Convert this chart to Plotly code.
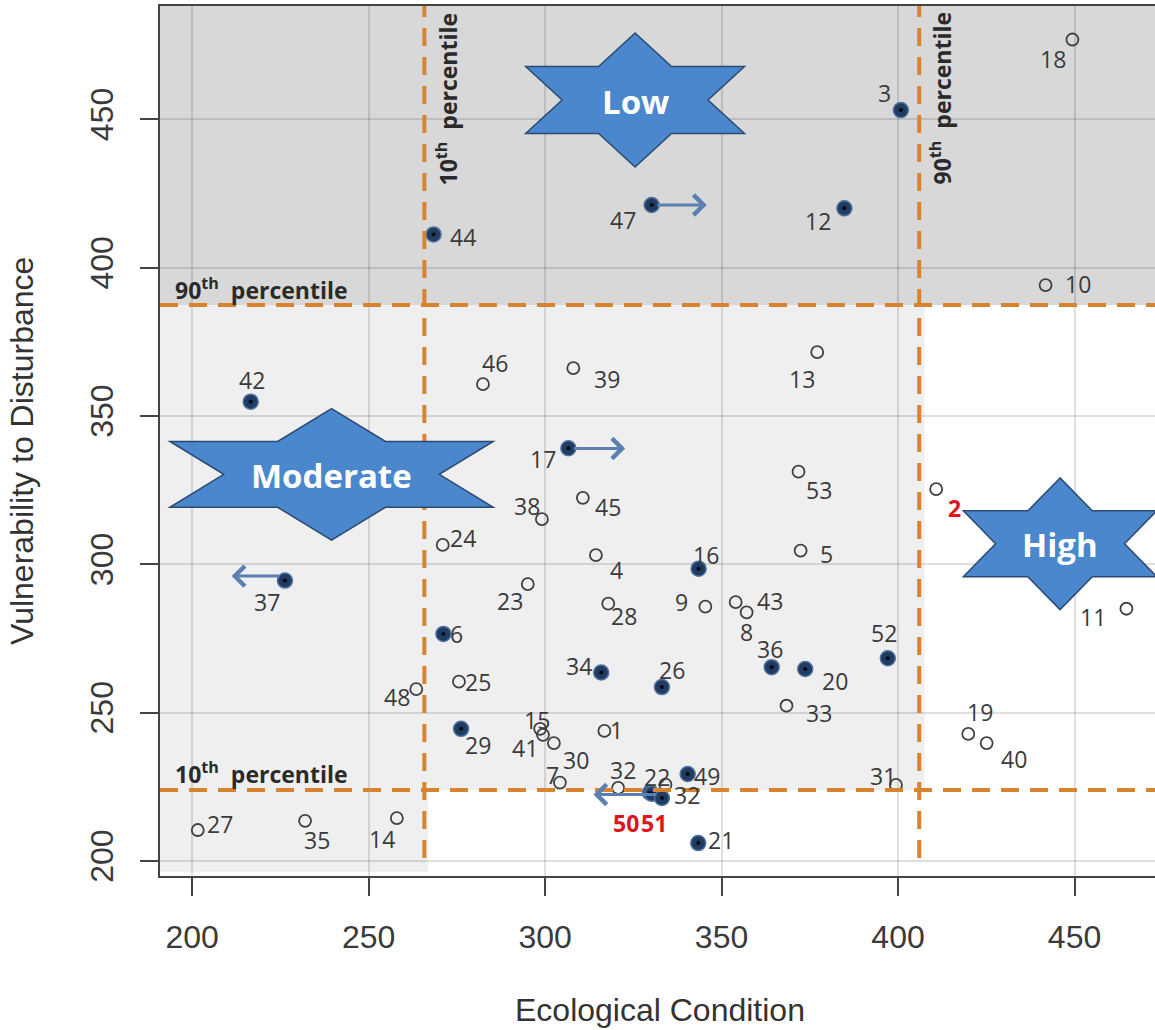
import math
import plotly.graph_objects as go

# ---------------- data ----------------
site_keys = ["1", "2", "3", "4", "5", "6", "7", "8", "9", "10",
             "11", "12", "13", "14", "15", "16", "17", "18", "19", "20",
             "21", "22", "23", "24", "25", "26", "27", "28", "29", "30",
             "31", "32a", "32b", "33", "34", "35", "36", "37", "38", "39",
             "40", "41", "42", "43", "44", "45", "46", "47", "48", "49",
             "50", "51", "52", "53"]
site_labels = [k.rstrip("ab") for k in site_keys]

ecological_condition = [316.8, 410.8, 400.8, 314.4, 372.4, 271.2, 304.2, 357.1, 345.4, 441.8,
                        464.7, 384.8, 377.1, 258.0, 298.6, 343.5, 306.6, 449.4, 419.9, 373.7,
                        343.4, 329.7, 295.1, 271.0, 275.6, 333.1, 201.6, 317.9, 276.2, 302.5,
                        399.4, 320.7, 334.1, 368.4, 315.9, 232.0, 364.2, 226.3, 299.1, 308.0,
                        425.1, 299.4, 216.6, 354.0, 268.4, 310.7, 282.4, 330.2, 263.5, 340.4,
                        330.3, 333.1, 397.1, 371.8]

vulnerability = [243.8, 325.3, 453.1, 303.1, 304.6, 276.5, 226.4, 283.8, 285.7, 394.1,
                 285.0, 420.0, 371.5, 214.4, 244.5, 298.5, 339.1, 476.9, 242.8, 264.7,
                 206.0, 223.0, 293.3, 306.5, 260.4, 258.6, 210.4, 286.7, 244.5, 239.7,
                 225.6, 224.6, 225.7, 252.3, 263.5, 213.5, 265.3, 294.5, 315.2, 366.1,
                 239.7, 242.5, 354.8, 287.2, 411.2, 322.4, 360.7, 421.1, 257.9, 229.3,
                 222.6, 221.2, 268.3, 331.2]

filled_sites = ["3", "6", "12", "16", "17", "20", "21", "22", "26", "29", "34", "36",
                "37", "42", "44", "47", "49", "50", "51", "52"]
highlight_sites = ["2", "50", "51"]

# percentiles
eco_p10, eco_p90 = 265.8, 406.0
vul_p10, vul_p90 = 223.9, 387.4

# arrows: (site, target ecological condition, vulnerability level)
arrows = [("47", 345.8, 421.1), ("17", 322.7, 339.0), ("37", 211.2, 296.0), ("51", 313.7, 222.4)]

# rating stars: (label, centre eco, centre vul, half-width, half-height)
stars = [("Low", 325.5, 456.5, 31.0, 22.6),
         ("Moderate", 239.5, 330.3, 45.8, 22.2),
         ("High", 445.9, 306.9, 27.4, 22.2)]

x_ticks = [200, 250, 300, 350, 400, 450]
y_ticks = [200, 250, 300, 350, 400, 450]

# ---------------- styling ----------------
X_RANGE = [190.9, 472.8]
Y_RANGE = [194.9, 488.2]
label_offsets = {
    "1": (12, 4), "2": (18, -16), "3": (-16, 20), "4": (21, -12), "5": (26, 0),
    "6": (13, 3), "7": (-7, 11), "8": (0, -17), "9": (-24, 8), "10": (32, 4),
    "11": (-33, -5), "12": (-26, -10), "13": (-15, -24), "14": (-15, -18), "15": (-3, 12),
    "16": (7, 17), "17": (-25, -8), "18": (-19, -16), "19": (12, 25), "20": (30, -9),
    "21": (23, 6), "22": (7, 19), "23": (-18, -14), "24": (20, 10), "25": (19, 3),
    "26": (10, 20), "27": (22, 9), "28": (16, -9), "29": (17, -13), "30": (22, -14),
    "31": (-13, 12), "32a": (5, 21), "32b": (22, -7), "33": (32, -4), "34": (-22, 10),
    "35": (12, -16), "36": (-2, 21), "37": (-18, -18), "38": (-15, 16), "39": (34, -8),
    "40": (27, -13), "41": (-18, -10), "42": (1, 25), "43": (34, 4), "44": (29, 0),
    "45": (25, -6), "46": (12, 24), "47": (-29, -12), "48": (-19, -5), "49": (19, 1),
    "50": (-26, -26), "51": (-8, -22), "52": (-4, 28), "53": (20, -15),
}
LABEL_FONT = "Open Sans, Lato, sans-serif"
AXIS_FONT = "Liberation Sans, Arial, sans-serif"
ORANGE = "#d8842e"
STAR_BLUE = "#4a87cc"
ARROW_BLUE = "#5b7fb0"

fig = go.Figure()

# background zones
shapes = [
    dict(type="rect", xref="x", yref="y", x0=X_RANGE[0], x1=eco_p90 + 1.5, y0=vul_p10, y1=vul_p90,
         fillcolor="#efefef", line_width=0, layer="below"),
    dict(type="rect", xref="x", yref="y", x0=X_RANGE[0], x1=eco_p10 + 1.0, y0=196.3, y1=vul_p10,
         fillcolor="#efefef", line_width=0, layer="below"),
    dict(type="rect", xref="x", yref="y", x0=X_RANGE[0], x1=X_RANGE[1], y0=vul_p90, y1=Y_RANGE[1],
         fillcolor="#d8d8d8", line_width=0, layer="below"),
]
# percentile lines
dash_line = dict(color=ORANGE, width=4, dash="18px,11px")
for yv in (vul_p90, vul_p10):
    shapes.append(dict(type="line", xref="x", yref="y", x0=X_RANGE[0], x1=X_RANGE[1], y0=yv, y1=yv,
                       line=dash_line, layer="above"))
for xv in (eco_p10, eco_p90):
    shapes.append(dict(type="line", xref="x", yref="y", x0=xv, x1=xv, y0=201.0, y1=Y_RANGE[1],
                       line=dash_line, layer="above"))

# stars (hexagrams)
annotations = []
for name, cx, cy, hw, hh in stars:
    rx = hw / math.cos(math.radians(30))
    ry = hh
    pts = []
    for i in range(12):
        ang = math.radians(90 + 30 * i)
        r = 1.0 if i % 2 == 0 else 1.0 / math.sqrt(3)
        pts.append((cx + rx * r * math.cos(ang), cy + ry * r * math.sin(ang)))
    path = "M " + " L ".join(f"{px:.3f},{py:.3f}" for px, py in pts) + " Z"
    shapes.append(dict(type="path", xref="x", yref="y", path=path, fillcolor=STAR_BLUE,
                       line=dict(color="#2b4a72", width=1.5), layer="above"))
    annotations.append(dict(x=cx, y=cy, xref="x", yref="y", text=f"<b>{name}</b>", showarrow=False,
                            font=dict(family=LABEL_FONT, size=33, color="white"), yshift=-1))

# points
fx = [x for x, k in zip(ecological_condition, site_labels) if k in filled_sites]
fy = [y for y, k in zip(vulnerability, site_labels) if k in filled_sites]
ox = [x for x, k in zip(ecological_condition, site_labels) if k not in filled_sites]
oy = [y for y, k in zip(vulnerability, site_labels) if k not in filled_sites]

fig.add_trace(go.Scatter(x=ox, y=oy, mode="markers", hoverinfo="skip",
                         marker=dict(symbol="circle-open", size=12, color="#404040",
                                     line=dict(width=1.8, color="#404040"))))
fig.add_trace(go.Scatter(x=fx, y=fy, mode="markers", hoverinfo="skip",
                         marker=dict(symbol="circle", size=15, color="#203c63",
                                     line=dict(width=1.5, color="#4f719b"))))
fig.add_trace(go.Scatter(x=fx, y=fy, mode="markers", hoverinfo="skip",
                         marker=dict(symbol="circle", size=4, color="#050a12", line_width=0)))

# arrows
for site, tx, ty in arrows:
    i = site_labels.index(site)
    annotations.append(dict(x=tx, y=ty, ax=ecological_condition[i], ay=ty, xref="x", yref="y",
                            axref="x", ayref="y", showarrow=True, arrowhead=4, arrowsize=1.3,
                            arrowwidth=3, arrowcolor=ARROW_BLUE, startstandoff=4, text=""))

# point labels
for key, lab, x, y in zip(site_keys, site_labels, ecological_condition, vulnerability):
    dx, dy = label_offsets[key]
    red = lab in highlight_sites
    annotations.append(dict(x=x, y=y, xref="x", yref="y", text=f"<b>{lab}</b>" if red else lab,
                            showarrow=False, xshift=dx, yshift=dy - 3,
                            font=dict(family=LABEL_FONT, size=23,
                                      color="#e0141e" if red else "#3a3a3a")))

# percentile labels
pfont = dict(family=LABEL_FONT, size=23, color="#2a2a2a")
annotations += [
    dict(x=0.013, y=393.9, xref="paper", yref="y", xanchor="left", yshift=-3, showarrow=False,
         text="<b>90<sup>th</sup>  percentile</b>", font=pfont),
    dict(x=0.013, y=230.6, xref="paper", yref="y", xanchor="left", yshift=-3, showarrow=False,
         text="<b>10<sup>th</sup>  percentile</b>", font=pfont),
    dict(x=272.6, y=456.8, xref="x", yref="y", textangle=-90, xshift=-1, showarrow=False,
         text="<b>10<sup>th</sup>  percentile</b>", font=pfont),
    dict(x=412.4, y=457.3, xref="x", yref="y", textangle=-90, xshift=-1, showarrow=False,
         text="<b>90<sup>th</sup>  percentile</b>", font=pfont),
]

# axis titles
tfont = dict(family=AXIS_FONT, size=32, color="#333333")
annotations += [
    dict(x=0.5025, y=0, xref="paper", yref="paper", yanchor="middle", yshift=-134,
         text="Ecological Condition", showarrow=False, font=tfont),
    dict(x=0, y=0.4885, xref="paper", yref="paper", xanchor="center", xshift=-138,
         text="Vulnerability to Disturbance", textangle=-90, showarrow=False, font=tfont),
]

axis_common = dict(
    showgrid=True, gridcolor="rgba(0,0,0,0.12)", gridwidth=1.5,
    zeroline=False, showline=True, linecolor="#444444", linewidth=2,
    ticks="outside", ticklen=18, tickwidth=2, tickcolor="#444444",
    tickfont=dict(family=AXIS_FONT, size=32, color="#3a3a3a"),
)

fig.update_layout(
    width=1155, height=1030,
    margin=dict(l=160, r=0, t=6, b=154),
    paper_bgcolor="white", plot_bgcolor="white",
    showlegend=False,
    shapes=shapes, annotations=annotations,
    xaxis=dict(range=X_RANGE, tickvals=x_ticks, mirror=True, ticklabelstandoff=14, **axis_common),
    yaxis=dict(range=Y_RANGE, tickvals=y_ticks, tickangle=-90, mirror=False, ticklabelstandoff=14,
               **axis_common),
)

fig.write_html("out.html", config={"displayModeBar": False},
               post_script="document.body.style.margin='0';document.body.style.overflow='hidden';")
